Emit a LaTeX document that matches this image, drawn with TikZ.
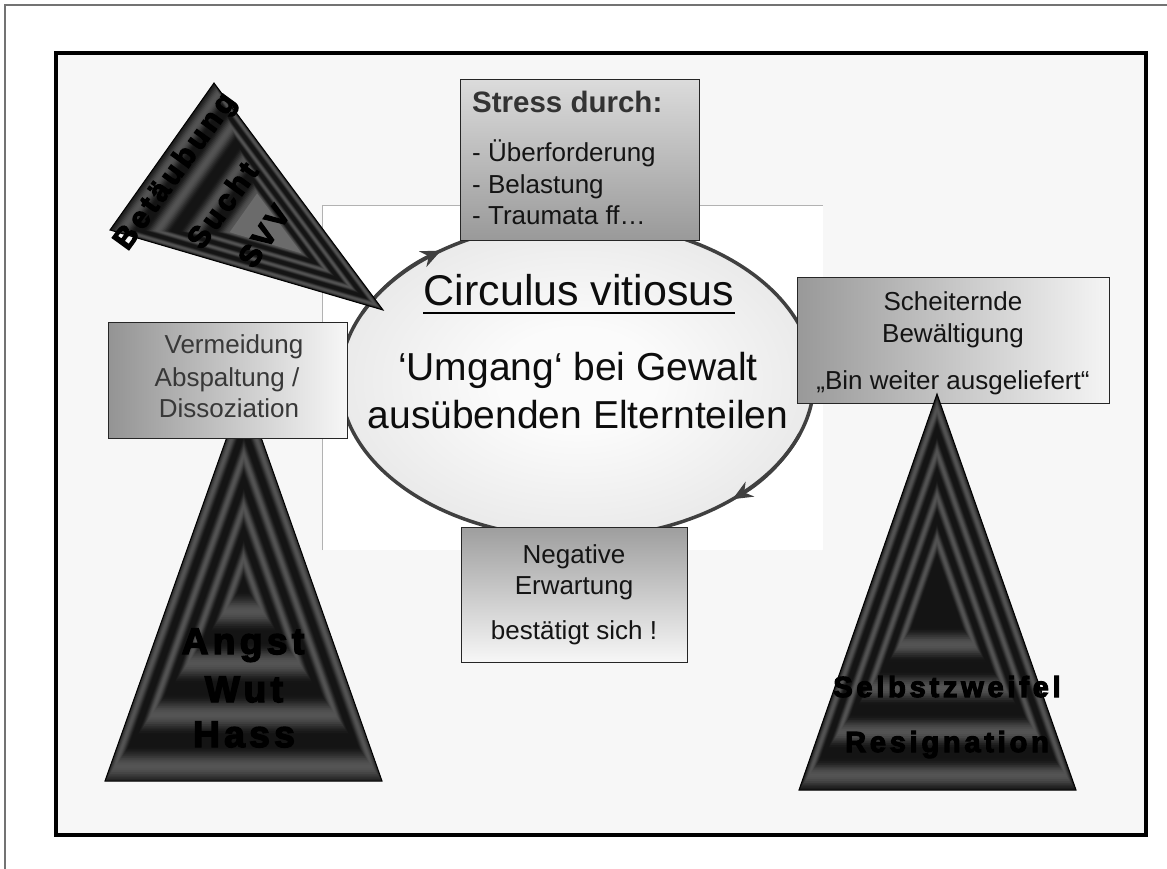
\documentclass[tikz,border=0pt]{standalone}
\usepackage{fontspec}
\setmainfont{Liberation Sans}
\usetikzlibrary{shapes.geometric,calc,arrows.meta}

\definecolor{ovalcore}{gray}{0.985}
\definecolor{ovalmid}{gray}{0.89}
\definecolor{ovalrim}{gray}{0.74}
\pgfdeclareradialshading{ovalglow}{\pgfpoint{0bp}{0bp}}{%
  color(0bp)=(ovalcore); color(8bp)=(ovalcore); color(32bp)=(ovalmid); color(50bp)=(ovalrim)}

% ribbed triangle: corners #1 #2 #3, centre #4, scale of innermost ridge #5,
% brightness (percent) kept inside the innermost ridge #6
\newcommand\bandtri[6]{%
  \pgfmathsetmacro\bandstep{(0.93-#5)/3}%
  \pgfmathsetmacro\bandw{0.4*\bandstep}%
  \foreach \i in {0,...,110}{%
    \pgfmathsetmacro\kk{1-\i/110}%
    \pgfmathsetmacro\ridge{pow(cos(min(90,90*abs(\kk-0.93)/\bandw)),2)+pow(cos(min(90,90*abs(\kk-0.93+\bandstep)/\bandw)),2)+pow(cos(min(90,90*abs(\kk-0.93+2*\bandstep)/\bandw)),2)+pow(cos(min(90,90*abs(\kk-#5)/\bandw)),2)}%
    \pgfmathsetmacro\lum{8+25*\ridge}%
    \pgfmathsetmacro\lum{ifthenelse(\kk<#5,ifthenelse(#6>20,#6,\lum),\lum)}%
    \pgfmathsetmacro\ink{100-\lum}%
    \fill[black!\ink] ($(#4)!\kk!(#1)$) -- ($(#4)!\kk!(#2)$) -- ($(#4)!\kk!(#3)$) -- cycle;
  }%
  \draw[black, line width=1pt, line join=miter] (#1) -- (#2) -- (#3) -- cycle;
}

\begin{document}
\begin{tikzpicture}[x=1pt,y=-1pt,
  panel/.style={draw=black!85, line width=1.3pt, inner sep=0pt, anchor=north west},
  boxtxt/.style={font=\fontsize{26}{30}\selectfont, text=black!92, inner sep=0pt, anchor=base},
  ovaltxt/.style={font=\fontsize{39}{44}\selectfont, text=black!95, inner sep=0pt, anchor=base},
  tritxt/.style={font=\bfseries\fontsize{37}{40}\selectfont\addfontfeature{LetterSpace=12,FakeBold=4}, text=black, inner sep=0pt, anchor=base},
  slanttxt/.style={font=\bfseries\fontsize{30}{32}\selectfont\addfontfeature{LetterSpace=12,FakeBold=4}, text=black, inner sep=0pt, anchor=center, rotate=54},
  ringline/.style={draw=black!75, line width=3.5pt},
  ringtip/.style={ringline, -{Stealth[length=20pt,width=17pt]}},
]
\useasboundingbox (0,0) rectangle (1167,869);
\fill[white] (0,0) rectangle (1167,869);

% page edges and slide frame
\draw[black!55, line width=1.4pt] (5,869) -- (5,5) -- (1167,5);
\draw[line width=3.2pt, fill=black!3] (56,53) rectangle (1146,835);
\fill[white] (322,205) rectangle (823,550);
\draw[black!30, line width=0.9pt] (322,550) -- (322,205) -- (823,205);

% the vicious circle
\node[ellipse, shade, shading=ovalglow, ringline, minimum width=474pt, minimum height=316pt, inner sep=0pt] (circ) at (577,380) {};
\draw[ringtip] ([shift={(205:237 and 158)}]circ.center) arc[start angle=205, end angle=235, x radius=237, y radius=158];
\draw[ringtip] ([shift={(20:237 and 158)}]circ.center) arc[start angle=20, end angle=49, x radius=237, y radius=158];

\node[ovaltxt, font=\fontsize{43}{46}\selectfont] (title) at (579,305) {Circulus vitiosus};
\draw[line width=2.5pt] ([yshift=-8pt]title.base west) -- ([yshift=-8pt]title.base east);
\node[ovaltxt] (topic1) at (578,380) {‘Umgang‘ bei Gewalt};
\node[ovaltxt] (topic2) at (578,428) {ausübenden Elternteilen};

% numbing triangle
\coordinate (nA) at (383,310);
\coordinate (nB) at (214,83);
\coordinate (nC) at (110,230);
\coordinate (nM) at (272.5,233);
\bandtri{nA}{nB}{nC}{nM}{0.27}{42}
\node[slanttxt] (betaeubung) at (176,172) {Betäubung};
\node[slanttxt] (sucht) at (222,205) {Sucht};
\node[slanttxt, rotate=2] (svv) at (264,236) {SVV};

% fear triangle
\coordinate (lA) at (244,389);
\coordinate (lB) at (105,781);
\coordinate (lC) at (382,781);
\coordinate (lM) at (243.5,585);
\bandtri{lA}{lB}{lC}{lM}{0.14}{8}
\node[tritxt] (angst) at (243,654) {Angst};
\node[tritxt] (wut) at (244,702) {Wut};
\node[tritxt] (hass) at (244,747) {Hass};

% boxes
\node[panel, left color=black!42, right color=black!3, minimum width=239pt, minimum height=116pt] (avoidbox) at (108,322) {};
\node[boxtxt, text=black!78] (avoid1) at (234,353) {Vermeidung};
\node[boxtxt, text=black!78] (avoid2) at (227,386) {Abspaltung /};
\node[boxtxt, text=black!78] (avoid3) at (229,417) {Dissoziation};

\node[panel, top color=black!14, bottom color=black!40, minimum width=239pt, minimum height=161pt] (stressbox) at (460,79) {};
\node[boxtxt, anchor=base west, font=\bfseries\fontsize{29.5}{30}\selectfont, text=black!80] (stresshead) at (472,113) {Stress durch:};
\node[boxtxt, anchor=base west] (stress1) at (472,162) {- Überforderung};
\node[boxtxt, anchor=base west] (stress2) at (472,194) {- Belastung};
\node[boxtxt, anchor=base west] (stress3) at (472,225) {- Traumata ff…};

\node[panel, top color=black!38, bottom color=black!3, minimum width=226pt, minimum height=135pt] (expectbox) at (461,527) {};
\node[boxtxt] (expect1) at (574,563) {Negative};
\node[boxtxt] (expect2) at (574,594) {Erwartung};
\node[boxtxt] (expect3) at (574,639) {bestätigt sich !};

\node[panel, left color=black!40, right color=black!4, minimum width=312pt, minimum height=126pt] (copebox) at (797,277) {};
\node[boxtxt] (cope1) at (953,310) {Scheiternde};
\node[boxtxt] (cope2) at (953,342) {Bewältigung};
\node[boxtxt] (cope3) at (953,389) {„Bin weiter ausgeliefert“};

% self-doubt triangle
\coordinate (rA) at (937,394);
\coordinate (rB) at (799,790);
\coordinate (rC) at (1076,790);
\coordinate (rM) at (937,592);
\bandtri{rA}{rB}{rC}{rM}{0.27}{8}
\node[tritxt, font=\bfseries\fontsize{29}{30}\selectfont\addfontfeature{LetterSpace=13,FakeBold=4}] (zweifel) at (947,697) {Selbstzweifel};
\node[tritxt, font=\bfseries\fontsize{29}{30}\selectfont\addfontfeature{LetterSpace=13,FakeBold=4}] (resign) at (947,752) {Resignation};
\end{tikzpicture}
\end{document}
